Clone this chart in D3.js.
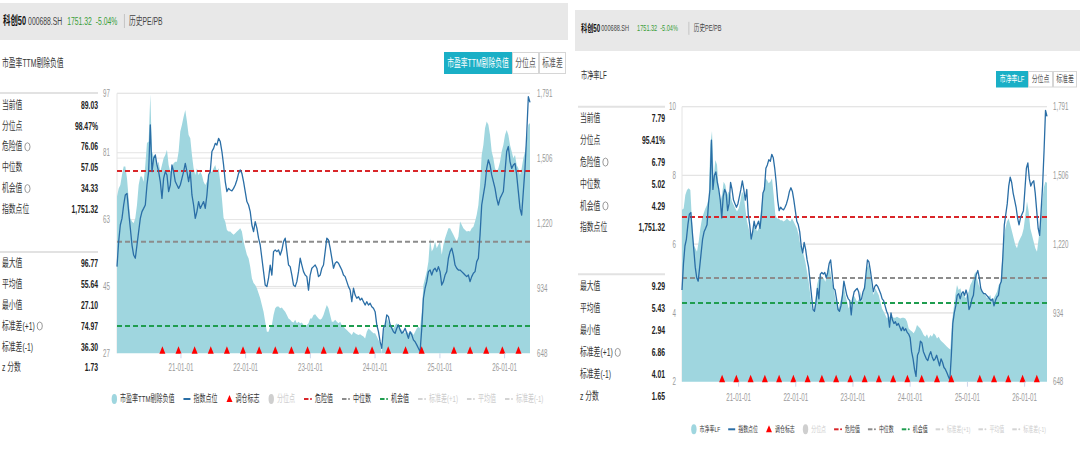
<!DOCTYPE html>
<html>
<head>
<meta charset="utf-8">
<script src="https://cdn.jsdelivr.net/npm/d3@7"></script>
<style>
  body { margin: 0; background: #fff; }
</style>
</head>
<body>
<script>
// sampled series run evenly from sampleStart to sampleEnd
const sampleStart = "2020-01-09";
const sampleEnd = "2026-05-27";

const yearTicks = ["2021-01-01", "2022-01-01", "2023-01-01", "2024-01-01", "2025-01-01", "2026-01-01"];

const rebalanceDates = ["2020-09-21", "2020-12-21", "2021-03-22", "2021-06-21", "2021-09-20", "2021-12-20",
  "2022-03-21", "2022-06-20", "2022-09-19", "2022-12-19", "2023-03-20", "2023-06-19", "2023-09-18",
  "2023-12-18", "2024-03-18", "2024-06-24", "2024-09-23", "2025-03-24", "2025-06-23", "2025-09-22",
  "2025-12-22", "2026-03-23"];

// 指数点位 (shared by both panels)
const indexLevel = [
  1029, 1139, 1212, 1241, 1300, 1344, 1351, 1271, 1198, 1124,
  1080, 1066, 1124, 1183, 1241, 1271, 1285, 1300, 1388, 1447,
  1652, 1447, 1505, 1520, 1476, 1447, 1403, 1329, 1417, 1447,
  1432, 1359, 1388, 1476, 1447, 1403, 1388, 1373, 1388, 1417,
  1447, 1483, 1447, 1403, 1447, 1344, 1300, 1241, 1271, 1315,
  1285, 1300, 1315, 1285, 1344, 1432, 1447, 1535, 1549, 1571,
  1564, 1593, 1579, 1535, 1476, 1403, 1359, 1373, 1366, 1362,
  1373, 1388, 1410, 1439, 1454, 1439, 1403, 1359, 1315, 1300,
  1271, 1212, 1183, 1227, 1198, 1154, 1124, 1066, 1007, 948,
  941, 978, 1036, 992, 1095, 1102, 1095, 1102, 1080, 1102,
  1139, 1154, 1095, 1036, 1029, 992, 948, 941, 963, 1007,
  1066, 1036, 1007, 992, 985, 926, 992, 1022, 1029, 1036,
  1022, 985, 992, 1022, 1036, 1095, 1154, 1146, 1110, 1066,
  1022, 1044, 1051, 1044, 1029, 1014, 992, 985, 963, 941,
  926, 875, 934, 904, 890, 897, 882, 890, 875, 860,
  875, 860, 868, 853, 846, 831, 773, 743, 699, 670,
  758, 773, 817, 809, 773, 758, 743, 736, 758, 773,
  751, 736, 743, 758, 736, 714, 743, 729, 707, 699,
  685, 670, 655, 758, 890, 934, 963, 1007, 1014, 992,
  1014, 1022, 1007, 1029, 1007, 948, 963, 992, 1007, 1066,
  1095, 1110, 1080, 1036, 1022, 1014, 1014, 1007, 1000, 992,
  985, 992, 963, 985, 1000, 1007, 1051, 1066, 1168, 1300,
  1344, 1388, 1461, 1498, 1476, 1432, 1403, 1373, 1329, 1300,
  1329, 1344, 1359, 1447, 1535, 1557, 1491, 1461, 1476, 1483,
  1432, 1359, 1285, 1256, 1359, 1461, 1608, 1776, 1751
];

// 市盈率TTM剔除负值
const peTTM = [
  69.2, 71.4, 72.3, 75.0, 77.3, 77.3, 74.1, 68.7, 63.4, 62.5,
  62.0, 63.4, 66.9, 72.3, 74.6, 74.6, 73.2, 77.7, 83.6, 84.0,
  96.77, 81.3, 80.0, 80.4, 77.7, 78.6, 75.9, 77.7, 79.5, 80.4,
  81.8, 77.7, 75.9, 76.8, 78.2, 78.6, 78.6, 81.3, 86.7, 88.5,
  90.7, 92.5, 89.4, 85.8, 84.9, 80.4, 76.8, 75.0, 76.8, 75.0,
  75.9, 75.0, 73.2, 72.3, 73.2, 74.6, 75.9, 75.9, 76.8, 77.7,
  75.9, 76.8, 73.2, 68.7, 63.4, 62.5, 60.2, 59.8, 59.8, 59.3,
  58.9, 59.3, 59.8, 60.2, 60.7, 59.8, 57.1, 55.3, 53.5, 52.6,
  50.3, 47.2, 45.9, 45.4, 44.5, 43.2, 41.8, 40.0, 38.2, 35.5,
  32.8, 32.8, 34.2, 34.6, 37.3, 39.1, 39.6, 39.6, 39.1, 39.3,
  38.7, 38.2, 37.3, 36.4, 36.0, 35.5, 35.3, 36.0, 35.1, 35.5,
  35.1, 35.3, 34.6, 34.2, 34.6, 35.1, 36.4, 36.4, 37.3, 37.5,
  36.9, 36.4, 36.0, 36.4, 37.3, 38.7, 40.0, 39.1, 37.3, 35.5,
  35.5, 36.0, 35.5, 35.1, 35.5, 34.6, 34.2, 33.7, 33.3, 32.8,
  32.4, 31.9, 32.8, 32.4, 32.1, 31.9, 32.1, 31.8, 31.5, 31.0,
  32.8, 33.7, 33.3, 32.8, 32.4, 32.4, 31.5, 30.6, 29.7, 27.1,
  32.8, 34.6, 36.4, 35.5, 34.6, 34.2, 33.7, 34.6, 35.1, 34.6,
  33.7, 33.3, 32.8, 32.4, 33.0, 32.4, 32.4, 32.8, 31.9, 32.8,
  33.7, 34.2, 33.7, 38.2, 45.4, 47.2, 49.0, 51.7, 58.0, 54.4,
  55.3, 57.1, 55.3, 56.2, 57.1, 53.5, 56.2, 58.0, 59.3, 60.7,
  60.7, 59.8, 58.9, 58.0, 57.1, 58.4, 62.5, 61.6, 60.7, 60.2,
  59.8, 59.9, 59.8, 60.7, 61.1, 62.5, 64.3, 66.9, 72.3, 80.4,
  83.1, 87.6, 89.4, 88.5, 85.8, 81.3, 79.5, 76.8, 75.9, 76.8,
  78.6, 81.3, 83.1, 85.8, 87.1, 85.8, 83.1, 81.3, 79.5, 80.4,
  77.7, 76.8, 75.0, 76.8, 79.5, 81.3, 84.0, 88.5, 89.03
];

// 市净率LF
const pbLF = [
  7.00, 7.04, 7.43, 7.58, 7.63, 7.58, 6.66, 5.98, 5.88, 5.78,
  6.07, 6.46, 6.75, 6.90, 7.04, 7.14, 7.34, 8.89, 9.29, 7.92,
  8.45, 8.31, 7.63, 7.24, 7.43, 7.82, 7.72, 7.43, 7.53, 7.43,
  7.24, 7.14, 7.04, 6.95, 7.04, 7.24, 7.53, 7.43, 7.04, 6.66,
  6.46, 6.27, 6.27, 6.46, 6.56, 6.37, 6.46, 6.85, 7.24, 7.63,
  7.92, 7.87, 7.77, 7.82, 7.92, 7.43, 6.85, 6.75, 6.75, 6.70,
  6.70, 6.66, 6.70, 6.75, 6.70, 6.66, 6.75, 6.66, 6.56, 6.46,
  6.27, 5.98, 5.88, 5.69, 5.49, 5.20, 4.91, 4.52, 4.13, 4.04,
  4.33, 4.81, 5.01, 5.10, 5.06, 5.01, 4.91, 5.10, 5.40, 5.20,
  4.91, 4.72, 4.43, 4.23, 4.13, 4.33, 4.52, 4.81, 4.52, 4.33,
  4.13, 4.23, 4.43, 4.52, 4.43, 4.33, 4.38, 4.62, 4.33, 4.72,
  4.91, 5.30, 5.40, 5.10, 4.72, 4.52, 4.72, 4.62, 4.52, 4.33,
  4.13, 4.04, 3.94, 3.84, 3.89, 3.89, 3.89, 3.86, 3.86, 3.89,
  3.86, 3.84, 3.86, 3.86, 3.84, 3.75, 3.55, 3.50, 3.46, 3.41,
  3.50, 3.65, 3.60, 3.55, 3.46, 3.36, 3.31, 3.38, 3.26, 3.36,
  3.31, 3.41, 3.36, 3.26, 3.31, 3.21, 3.16, 3.12, 3.07, 3.02,
  2.97, 2.94, 3.75, 4.13, 4.52, 4.81, 4.67, 4.72, 4.52, 4.62,
  4.43, 4.52, 4.62, 4.81, 4.91, 5.06, 5.20, 5.01, 4.81, 4.72,
  4.62, 4.57, 4.52, 4.43, 4.47, 4.52, 4.33, 4.43, 4.52, 4.62,
  4.81, 4.86, 5.49, 6.17, 6.46, 6.66, 6.75, 6.56, 6.37, 6.17,
  5.98, 5.88, 6.07, 6.17, 6.27, 6.46, 6.85, 7.24, 6.95, 6.46,
  6.27, 6.07, 5.88, 5.78, 6.17, 6.66, 7.14, 7.63, 7.82, 7.79
];

const indexTicks = [648, 934, 1220, 1506, 1791];
const peTicks = [27, 45, 63, 81, 97];
const pbTicks = [2, 4, 6, 8, 10];

// 危险值, 中位数, 机会值
const peRefLines = [76.06, 57.05, 34.33];
const pbRefLines = [6.79, 5.02, 4.29];

const titleParts = ["科创50", "000688.SH", "1751.32", "-5.04%", "历史PE/PB"];
const statNamesTop = ["当前值", "分位点", "危险值", "中位数", "机会值", "指数点位"];
const statNamesBottom = ["最大值", "平均值", "最小值", "标准差(+1)", "标准差(-1)", "z 分数"];
const peStatsTop = ["89.03", "98.47%", "76.06", "57.05", "34.33", "1,751.32"];
const peStatsBottom = ["96.77", "55.64", "27.10", "74.97", "36.30", "1.73"];
const pbStatsTop = ["7.79", "95.41%", "6.79", "5.02", "4.29", "1,751.32"];
const pbStatsBottom = ["9.29", "5.43", "2.94", "6.86", "4.01", "1.65"];
const legendNames = ["指数点位", "调仓标志", "分位点", "危险值", "中位数", "机会值", "标准差(+1)", "平均值", "标准差(-1)"];

const parse = d3.timeParse("%Y-%m-%d");
const SX = 0.62;   // the screenshot is squeezed sideways
const FONT = '"Liberation Sans", "Noto Sans CJK SC", sans-serif';
const C = {
  teal: "#9fd6df", blue: "#2a6ea6", red: "#d9262a", gray: "#8c8c8c", green: "#1f9d4f",
  off: "#cdcdcd", btn: "#1aafc6", up: "#3a9e3a", grid: "#e4e4e4"
};
const refColors = [C.red, C.gray, C.green];
const infoTop = [false, false, true, false, true, false];
const infoBottom = [false, false, false, true, false, false];

const svg = d3.select("body").append("svg")
  .attr("width", 1080)
  .attr("height", 453)
  .style("font-family", FONT);

function txt(g, x, y, s, o) {
  o = o || {};
  return g.append("text")
    .attr("transform", "translate(" + x + "," + y + ") scale(" + SX + ",1)")
    .attr("font-size", o.size || 11)
    .attr("fill", o.color || "#333")
    .attr("font-weight", o.weight || "normal")
    .attr("text-anchor", o.anchor || "start")
    .attr("dominant-baseline", "central")
    .text(s);
}
function widthOf(t) {
  return t.node().getComputedTextLength() * SX;
}

function drawPanel(p, L) {
  const g = svg.append("g");

  // header bar
  const H = L.header;
  g.append("rect").attr("x", H.x).attr("y", H.y).attr("width", H.w).attr("height", H.h).attr("fill", "#e8e8e8");
  let cx = H.textX;
  titleParts.forEach(function(s, i) {
    if (i === 4) {
      g.append("line")
        .attr("x1", cx).attr("x2", cx)
        .attr("y1", H.textY - H.sepH / 2).attr("y2", H.textY + H.sepH / 2)
        .attr("stroke", "#c4c4c4");
      cx += H.gaps[4];
    }
    const t = txt(g, cx, H.textY, s, {
      size: i === 0 ? H.big : H.small,
      weight: i === 0 ? "bold" : "normal",
      color: (i === 2 || i === 3) ? C.up : (i === 0 ? "#111" : "#444")
    });
    if (i < 4) cx += widthOf(t) + H.gaps[i];
  });

  // subtitle + buttons
  txt(g, L.subtitle.x, L.subtitle.y, p.name, {size: L.subtitle.size, color: "#333"});
  const B = L.buttons;
  [p.name, "分位点", "标准差"].forEach(function(s, i) {
    const x0 = B.x[i], x1 = B.x[i + 1];
    g.append("rect")
      .attr("x", x0 + 0.5).attr("y", B.y + 0.5)
      .attr("width", x1 - x0 - 1).attr("height", B.h - 1)
      .attr("fill", i === 0 ? C.btn : "#fff")
      .attr("stroke", i === 0 ? C.btn : "#d6d6d6");
    txt(g, (x0 + x1) / 2, B.y + B.h / 2, s, {size: B.size, color: i === 0 ? "#fff" : "#555", anchor: "middle"});
  });

  // stats table
  const S = L.stats;
  S.rule.forEach(function(y) {
    g.append("line").attr("x1", S.x0 - 2).attr("x2", S.x1).attr("y1", y).attr("y2", y)
      .attr("stroke", "#e2e2e2").attr("stroke-width", 2);
  });
  [[statNamesTop, p.statsTop, infoTop, S.row1], [statNamesBottom, p.statsBottom, infoBottom, S.row2]]
    .forEach(function(block) {
      block[0].forEach(function(name, i) {
        const y = block[3] + i * S.step;
        const t = txt(g, S.x0, y, name, {size: S.size, color: "#333"});
        if (block[2][i]) {
          g.append("ellipse").attr("cx", S.x0 + widthOf(t) + 5).attr("cy", y)
            .attr("rx", 2.6).attr("ry", 4).attr("fill", "none").attr("stroke", "#9a9a9a");
        }
        txt(g, S.x1, y, block[1][i], {size: S.size, color: "#222", weight: "bold", anchor: "end"});
      });
    });

  // plot
  const P = L.plot;
  const x = d3.scaleTime().domain([parse(sampleStart), parse(sampleEnd)]).range([P.left, P.right]);
  const yV = d3.scaleLinear().domain([p.ticks[0], p.ticks[p.ticks.length - 1]]).range([P.bottom, P.top]);
  const yI = d3.scaleLinear().domain([indexTicks[0], indexTicks[indexTicks.length - 1]]).range([P.bottom, P.top]);
  const when = d3.interpolateDate(x.domain()[0], x.domain()[1]);
  const at = function(i, n) { return x(when(i / (n - 1))); };

  const grid = g.append("g").attr("stroke", C.grid);
  p.ticks.slice(1).forEach(function(v) {
    grid.append("line").attr("x1", P.left).attr("x2", P.right).attr("y1", yV(v)).attr("y2", yV(v));
  });
  indexTicks.slice(1).forEach(function(v) {
    grid.append("line").attr("x1", P.left).attr("x2", P.right).attr("y1", yI(v)).attr("y2", yI(v));
  });
  grid.append("line").attr("x1", P.left).attr("x2", P.left).attr("y1", P.top).attr("y2", P.bottom);

  g.append("path")
    .datum(p.values)
    .attr("fill", C.teal)
    .attr("d", d3.area()
      .x(function(d, i) { return at(i, p.values.length); })
      .y0(P.bottom)
      .y1(function(d) { return yV(d); }));

  p.refs.forEach(function(v, i) {
    g.append("line")
      .attr("x1", P.left).attr("x2", P.right).attr("y1", yV(v)).attr("y2", yV(v))
      .attr("stroke", refColors[i]).attr("stroke-width", 2).attr("stroke-dasharray", "5,3");
  });

  g.append("path")
    .datum(indexLevel)
    .attr("fill", "none")
    .attr("stroke", C.blue)
    .attr("stroke-width", 1.3)
    .attr("stroke-linejoin", "round")
    .attr("d", d3.line()
      .x(function(d, i) { return at(i, indexLevel.length); })
      .y(function(d) { return yI(d); }));

  g.append("g").selectAll("path")
    .data(rebalanceDates)
    .enter()
    .append("path")
    .attr("transform", function(d) { return "translate(" + x(parse(d)) + "," + P.bottom + ")"; })
    .attr("d", "M0,-7L3,0.5L-3,0.5Z")
    .attr("fill", "#f00");

  // axes
  const la = g.append("g")
    .attr("transform", "translate(" + P.left + ",0)")
    .attr("font-family", FONT).attr("font-size", L.axisSize)
    .call(d3.axisLeft(yV).tickValues(p.ticks).tickSize(0).tickPadding(L.tickGap / SX));
  la.select(".domain").remove();
  la.selectAll("text").attr("transform", "scale(" + SX + ",1)").attr("fill", "#9a9a9a");

  const ra = g.append("g")
    .attr("transform", "translate(" + P.right + ",0)")
    .attr("font-family", FONT).attr("font-size", L.axisSize)
    .call(d3.axisRight(yI).tickValues(indexTicks).tickFormat(d3.format(",")).tickSize(0).tickPadding(L.tickGap / SX));
  ra.select(".domain").remove();
  ra.selectAll("text").attr("transform", "scale(" + SX + ",1)").attr("fill", "#9a9a9a");

  const ba = g.append("g")
    .attr("transform", "translate(0," + P.bottom + ")")
    .attr("font-family", FONT).attr("font-size", L.xSize)
    .call(d3.axisBottom(x).tickValues(yearTicks.map(parse)).tickFormat(d3.timeFormat("%y-%m-%d")).tickSize(5));
  ba.select(".domain").remove();
  ba.selectAll(".tick line").attr("stroke", "#ccd6eb");
  ba.selectAll("text")
    .attr("transform", "scale(" + SX + ",1)")
    .attr("y", L.xLabelY - P.bottom).attr("dy", "0.35em")
    .attr("fill", "#9a9a9a");

  // legend
  const keys = [
    {sym: "ellipse", color: C.teal, w: 5.4},
    {sym: "line", color: C.blue, w: 7},
    {sym: "tri", color: "#f00", w: 6},
    {sym: "ellipse", color: "#cfcfcf", w: 5.4, off: true},
    {sym: "dash", color: C.red, w: 8},
    {sym: "dash", color: C.gray, w: 8},
    {sym: "dash", color: C.green, w: 8},
    {sym: "dash", color: "#d4d4d4", w: 8, off: true},
    {sym: "dash", color: "#d4d4d4", w: 8, off: true},
    {sym: "dash", color: "#d4d4d4", w: 8, off: true}
  ];
  const names = [p.name].concat(legendNames);
  const lg = g.append("g");
  const items = [];
  let total = 0;
  keys.forEach(function(k, i) {
    const ig = lg.append("g");
    if (k.sym === "ellipse") {
      ig.append("ellipse").attr("cx", 2.7).attr("cy", 0).attr("rx", 2.7).attr("ry", 5).attr("fill", k.color);
    } else if (k.sym === "line") {
      ig.append("line").attr("x1", 0).attr("x2", 7).attr("y1", 0).attr("y2", 0).attr("stroke", k.color).attr("stroke-width", 2);
    } else if (k.sym === "tri") {
      ig.append("path").attr("d", "M3,-4L6,3L0,3Z").attr("fill", k.color);
    } else {
      ig.append("line").attr("x1", 0).attr("x2", 4.5).attr("y1", 0).attr("y2", 0).attr("stroke", k.color).attr("stroke-width", 2);
      ig.append("circle").attr("cx", 7).attr("cy", 0).attr("r", 1).attr("fill", k.color);
    }
    const t = txt(ig, k.w + 3, 0, names[i], {size: L.legendSize, color: k.off ? C.off : "#333"});
    const w = k.w + 3 + widthOf(t);
    items.push({ig: ig, w: w});
    total += w;
  });
  total += L.legendGap * (items.length - 1);
  let lx = (P.left + P.right) / 2 + L.legendShift - total / 2;
  items.forEach(function(it) {
    it.ig.attr("transform", "translate(" + lx + "," + L.legendY + ")");
    lx += it.w + L.legendGap;
  });
}

const leftLayout = {
  header: {x: 0, y: 3, w: 568, h: 37, textX: 3, textY: 21, big: 12, small: 11, sepH: 14, gaps: [2, 5, 4, 7, 4.5]},
  subtitle: {x: 2, y: 63, size: 11},
  buttons: {y: 52, h: 22, x: [444, 512, 539, 566], size: 11},
  stats: {x0: 2, x1: 98, rule: [93, 252], row1: 105, row2: 263.3, step: 20.9, size: 11},
  plot: {left: 117, right: 530, top: 93.3, bottom: 353.3},
  axisSize: 11, tickGap: 7, xSize: 11, xLabelY: 367.7,
  legendY: 399, legendSize: 9.7, legendGap: 9, legendShift: 4
};
const rightLayout = {
  header: {x: 575, y: 10, w: 505, h: 41, textX: 581, textY: 28.3, big: 10, small: 9, sepH: 13, gaps: [1, 8, 3, 11, 5]},
  subtitle: {x: 581, y: 75, size: 10},
  buttons: {y: 71, h: 16.5, x: [996, 1028, 1053, 1077], size: 9.5},
  stats: {x0: 580, x1: 665, rule: [106.7, 274.3], row1: 118.3, row2: 286.7, step: 21.9, size: 11},
  plot: {left: 682, right: 1047, top: 106.7, bottom: 381.7},
  axisSize: 8.5, tickGap: 6, xSize: 9, xLabelY: 397.7,
  legendY: 429.3, legendSize: 8, legendGap: 8, legendShift: 4
};

drawPanel({name: "市盈率TTM剔除负值", values: peTTM, ticks: peTicks, refs: peRefLines,
  statsTop: peStatsTop, statsBottom: peStatsBottom}, leftLayout);
drawPanel({name: "市净率LF", values: pbLF, ticks: pbTicks, refs: pbRefLines,
  statsTop: pbStatsTop, statsBottom: pbStatsBottom}, rightLayout);
</script>
</body>
</html>
